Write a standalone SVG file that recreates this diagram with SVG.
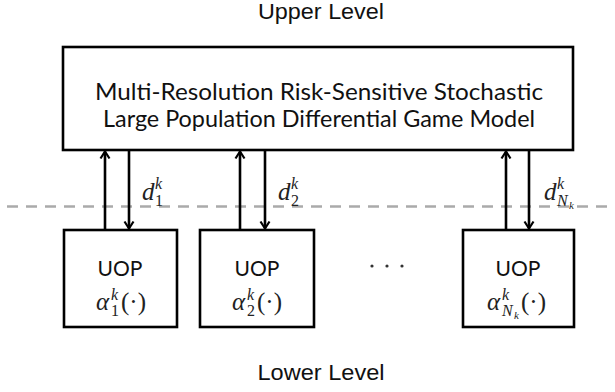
<svg xmlns="http://www.w3.org/2000/svg" width="615" height="392" viewBox="0 0 615 392">
<defs>
<style>
.box{fill:#fff;stroke:#000;stroke-width:2.6}
.lvl{font-family:"Liberation Sans",Arial,sans-serif;font-size:22px;fill:#111;text-anchor:middle}
.title{font-family:Lato,"Open Sans",sans-serif;font-size:23px;fill:#111;text-anchor:middle}
.uop{font-family:Lato,"Open Sans",sans-serif;font-size:21px;fill:#111;text-anchor:middle}
.math{font-family:"Liberation Serif","DejaVu Serif",serif;font-size:25px;fill:#222}
.it{font-style:italic}
.sup{font-size:16px;font-style:italic}
.sub{font-size:16px;font-style:normal}
.subit{font-size:16px;font-style:italic}
.subsub{font-size:11px;font-style:italic}
.arr{stroke:#000;stroke-width:2.6;fill:none}
.dash{stroke:#aaa;stroke-width:2.5;stroke-dasharray:11 8;fill:none}
</style>
<marker id="head" viewBox="0 0 12 12" refX="10" refY="6" markerWidth="12" markerHeight="12" markerUnits="userSpaceOnUse" orient="auto">
<path d="M3,1.5 L10,6 L3,10.5" fill="none" stroke="#000" stroke-width="2.2"/>
</marker>
</defs>
<rect width="615" height="392" fill="#fff"/>
<line class="dash" x1="7" y1="206.5" x2="615" y2="206.5"/>
<text class="lvl" x="321" y="19" textLength="126" lengthAdjust="spacingAndGlyphs">Upper Level</text>
<text class="lvl" x="321" y="380" textLength="127" lengthAdjust="spacingAndGlyphs">Lower Level</text>
<g id="model">
<rect class="box" x="63" y="47" width="510" height="103"/>
<text class="title" x="319" y="100" textLength="448" lengthAdjust="spacingAndGlyphs">Multi-Resolution Risk-Sensitive Stochastic</text>
<text class="title" x="319" y="127" textLength="432" lengthAdjust="spacingAndGlyphs">Large Population Differential Game Model</text>
</g>
<g id="uop1">
<rect class="box" x="64" y="230" width="113" height="97"/>
<text class="uop" x="120" y="276">UOP</text>
<text class="math" x="96" y="310"><tspan class="it">α</tspan></text>
<text class="math sup" x="111" y="300">k</text>
<text class="math sub" x="111" y="316">1</text>
<text class="math" x="121" y="310">(·)</text>
</g>
<g id="uop2">
<rect class="box" x="200" y="230" width="114" height="97"/>
<text class="uop" x="257" y="276">UOP</text>
<text class="math" x="232" y="310"><tspan class="it">α</tspan></text>
<text class="math sup" x="247" y="300">k</text>
<text class="math sub" x="247" y="316">2</text>
<text class="math" x="257" y="310">(·)</text>
</g>
<g id="dots">
<circle cx="372" cy="266" r="1.6" fill="#333"/>
<circle cx="387" cy="266" r="1.6" fill="#333"/>
<circle cx="402" cy="266" r="1.6" fill="#333"/>
</g>
<g id="uopN">
<rect class="box" x="463" y="230" width="111" height="97"/>
<text class="uop" x="518" y="276">UOP</text>
<text class="math" x="487" y="310"><tspan class="it">α</tspan></text>
<text class="math sup" x="502" y="300">k</text>
<text class="math subit" x="502" y="316">N</text>
<text class="math subsub" x="514" y="319">k</text>
<text class="math" x="521" y="310">(·)</text>
</g>
<g id="connectors">
<line class="arr" x1="105" y1="230" x2="105" y2="151.5" marker-end="url(#head)"/>
<line class="arr" x1="129" y1="150" x2="129" y2="228.5" marker-end="url(#head)"/>
<line class="arr" x1="240" y1="230" x2="240" y2="151.5" marker-end="url(#head)"/>
<line class="arr" x1="265" y1="150" x2="265" y2="228.5" marker-end="url(#head)"/>
<line class="arr" x1="506" y1="230" x2="506" y2="151.5" marker-end="url(#head)"/>
<line class="arr" x1="529" y1="150" x2="529" y2="228.5" marker-end="url(#head)"/>
<text class="math" x="142" y="200"><tspan class="it">d</tspan></text>
<text class="math sup" x="155" y="189">k</text>
<text class="math sub" x="155" y="206">1</text>
<text class="math" x="278" y="200"><tspan class="it">d</tspan></text>
<text class="math sup" x="291" y="189">k</text>
<text class="math sub" x="291" y="206">2</text>
<text class="math" x="544" y="200"><tspan class="it">d</tspan></text>
<text class="math sup" x="557" y="189">k</text>
<text class="math subit" x="557" y="206">N</text>
<text class="math subsub" x="569" y="209">k</text>
</g>
</svg>
